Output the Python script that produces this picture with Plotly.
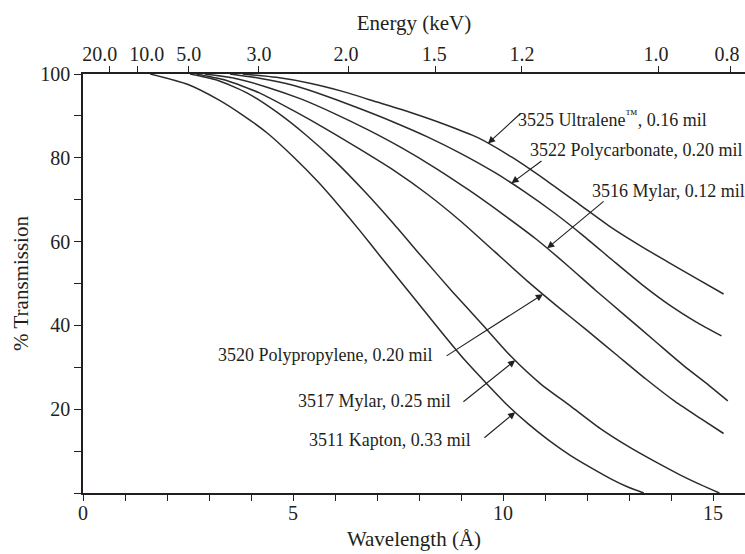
import numpy as np
import plotly.graph_objects as go

# ---------------- data ----------------
lam_kapton = [1.6, 2.5, 3.2, 3.8, 4.4, 5.0, 5.6, 6.1, 6.6, 7.1, 7.6, 8.1, 8.6, 9.1, 9.6,
              10.1, 10.6, 11.1, 11.6, 12.1, 12.6, 13.0, 13.35]
t_kapton = [100, 97.5, 94, 90.2, 85.8, 80.3, 74.2, 68.5, 62.5, 56.2, 50, 43.8, 37.6, 31.6,
            26.2, 21, 16.5, 12.5, 9, 6, 3.2, 1.3, 0]

lam_mylar25 = [2.55, 3.2, 3.9, 4.6, 5.3, 6.0, 6.7, 7.4, 8.1, 8.8, 9.5, 10.2, 10.9, 11.6,
               12.3, 13.0, 13.6, 14.2, 14.7, 15.15]
t_mylar25 = [100, 98.5, 95.5, 91, 85.5, 79.2, 72, 64.2, 56, 48, 40.3, 32.5, 26, 20.8,
             15.5, 11, 7.6, 4.4, 2, 0]

lam_pp = [2.7, 3.4, 4.2, 5.0, 5.8, 6.6, 7.4, 8.2, 9.0, 9.8, 10.6, 11.3, 12.0, 12.7,
          13.4, 14.1, 14.7, 15.25]
t_pp = [100, 98.5, 95.5, 91.3, 86.8, 82, 77, 71.3, 64.8, 57.6, 50.4, 44.5, 38.8, 33,
        27.2, 21.8, 17.8, 14.2]

lam_mylar12 = [2.9, 3.6, 4.4, 5.2, 6.0, 6.8, 7.6, 8.4, 9.2, 10.0, 10.8, 11.5, 12.2, 12.9,
               13.6, 14.3, 14.9, 15.35]
t_mylar12 = [100, 99, 96.8, 94, 90.5, 86.6, 82.3, 77.5, 72.2, 66.5, 60.5, 54.6, 48.4, 42.4,
             36.4, 30.4, 25.7, 22]

lam_pc = [3.5, 4.2, 5.0, 5.8, 6.6, 7.4, 8.2, 9.0, 9.8, 10.5, 11.2, 11.9, 12.6, 13.3,
          14.0, 14.6, 15.2]
t_pc = [100, 99, 97.3, 94.7, 91.7, 88.5, 85, 81, 76.5, 72, 67, 61.5, 55.6, 49.8,
        44.6, 40.8, 37.5]

lam_ultra = [3.8, 4.6, 5.4, 6.2, 7.0, 7.8, 8.6, 9.4, 10.2, 11.0, 11.8, 12.6, 13.3, 14.0,
             14.6, 15.25]
t_ultra = [100, 99.2, 97.8, 95.8, 93.3, 90.8, 88, 84.8, 80.2, 74.8, 69, 63.2, 58.8, 54.7,
           51.2, 47.5]

labels = [
    "3511 Kapton, 0.33 mil",
    "3517 Mylar, 0.25 mil",
    "3520 Polypropylene, 0.20 mil",
    "3516 Mylar, 0.12 mil",
    "3522 Polycarbonate, 0.20 mil",
    "3525 Ultralene<sup>™</sup>, 0.16 mil",
]

energy_labels = ["20.0", "10.0", "5.0", "3.0", "2.0", "1.5", "1.2", "1.0", "0.8"]
energy_tick_pos = [0.64, 1.3, 2.52, 4.17, 6.31, 8.38, 10.45, 13.69, 15.42]
energy_label_pos = [0.4, 1.52, 2.52, 4.19, 6.26, 8.36, 10.45, 13.64, 15.33]

y_ticks = [20, 40, 60, 80, 100]
x_ticks = [0, 5, 10, 15]

series = [
    (lam_kapton, t_kapton),
    (lam_mylar25, t_mylar25),
    (lam_pp, t_pp),
    (lam_mylar12, t_mylar12),
    (lam_pc, t_pc),
    (lam_ultra, t_ultra),
]

# ---------------- figure ----------------
FONT = "Liberation Serif"
INK = "#231f20"
XMAX = 15.76

fig = go.Figure()
for (lx, ty), name in zip(series, labels):
    fig.add_trace(go.Scatter(
        x=lx, y=ty, mode="lines", name=name,
        line=dict(color="#2b2b2b", width=1.5, shape="spline", smoothing=0.6),
        showlegend=False, hoverinfo="skip",
    ))

# invisible traces carrying the top (energy) axes
for ax in ("x2", "x3"):
    fig.add_trace(go.Scatter(x=[0, XMAX], y=[0, 0], xaxis=ax, mode="lines",
                             line=dict(width=0), showlegend=False, hoverinfo="skip"))

# label layout: (text centre lam, text centre T, arrow tail lam, tail T, tip lam)
label_pos = [
    (7.31, 12.6, 9.52, 12.9, 10.29),
    (6.94, 22.0, 9.02, 21.5, 10.29),
    (5.77, 32.9, 8.62, 32.5, 10.95),
    (13.93, 72.0, 12.43, 69.9, 11.05),
    (13.17, 81.9, 10.95, 79.5, 10.2),
    (12.6, 89.5, 10.45, 90.9, 9.64),
]

annotations = []
for (lx, ty), text, (cx, cy, tx, tyl, tip) in zip(series, labels, label_pos):
    tip_y = float(np.interp(tip, lx, ty))
    annotations.append(dict(
        x=tip, y=tip_y, ax=tx, ay=tyl, xref="x", yref="y", axref="x", ayref="y",
        text="", showarrow=True, arrowhead=2, arrowsize=1.3, arrowwidth=1.1,
        arrowcolor=INK,
    ))
    annotations.append(dict(
        x=cx, y=cy, xref="x", yref="y", text=text, showarrow=False,
        font=dict(family=FONT, size=18, color=INK),
    ))

fig.update_layout(
    width=745, height=554,
    margin=dict(l=83, r=0, t=74, b=61),
    paper_bgcolor="white", plot_bgcolor="white",
    font=dict(family=FONT, size=18, color=INK),
    annotations=annotations,
    xaxis=dict(
        range=[0, XMAX], tickvals=x_ticks, ticks="outside", ticklen=6, tickwidth=1,
        tickcolor=INK, showline=True, linecolor=INK, linewidth=1.5,
        showgrid=False, zeroline=False, automargin=False, tickangle=0,
        ticklabelstandoff=-5,
        minor=dict(dtick=1, tick0=0, ticks="outside", ticklen=6, tickcolor=INK, showgrid=False),
        tickfont=dict(family=FONT, size=20, color=INK),
        title=dict(text="Wavelength (Å)", font=dict(family=FONT, size=21, color=INK), standoff=9),
    ),
    xaxis2=dict(
        range=[0, XMAX], overlaying="x", side="top", anchor="y",
        tickvals=energy_tick_pos, showticklabels=False,
        ticks="outside", ticklen=6, tickcolor=INK, showline=True, linecolor=INK,
        linewidth=1.5, showgrid=False, zeroline=False, automargin=False,
    ),
    xaxis3=dict(
        range=[0, XMAX], overlaying="x", side="top", anchor="y",
        tickvals=energy_label_pos, ticktext=energy_labels, ticks="", ticklen=6,
        showline=False, showgrid=False, zeroline=False, automargin=False, tickangle=0,
        ticklabelstandoff=8,
        tickfont=dict(family=FONT, size=20, color=INK),
        title=dict(text="Energy (keV)", font=dict(family=FONT, size=21, color=INK), standoff=6),
    ),
    yaxis=dict(
        range=[0, 100], tickvals=y_ticks, ticks="outside", ticklen=7, tickcolor=INK,
        showline=True, linecolor=INK, linewidth=1.5, showgrid=False, zeroline=False,
        automargin=False,
        minor=dict(dtick=10, tick0=0, ticks="outside", ticklen=7, tickcolor=INK, showgrid=False),
        tickfont=dict(family=FONT, size=20, color=INK),
        title=dict(text="% Transmission", font=dict(family=FONT, size=21, color=INK), standoff=6),
    ),
)

fig.write_html(
    "out.html",
    config={"displayModeBar": False},
    post_script="document.body.style.margin='0';document.body.style.overflow='hidden';",
)
